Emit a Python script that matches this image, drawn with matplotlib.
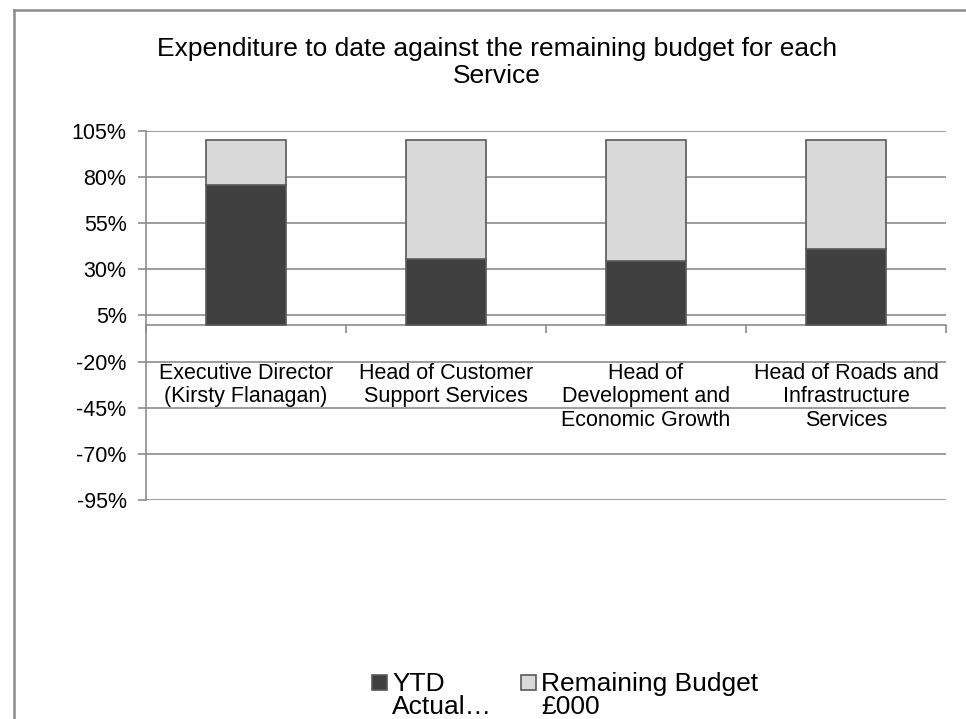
import numpy as np
import matplotlib
matplotlib.use("Agg")
import matplotlib.pyplot as plt
from matplotlib.patches import Rectangle
from matplotlib.lines import Line2D

plt.rcParams['font.family'] = ['Liberation Sans', 'DejaVu Sans']

# --- data ---
categories = [
    "Executive Director\n(Kirsty Flanagan)",
    "Head of Customer\nSupport Services",
    "Head of\nDevelopment and\nEconomic Growth",
    "Head of Roads and\nInfrastructure\nServices",
]
ytd_actual = [75.5, 35.4, 34.3, 41.3]          # % of budget spent
remaining = [100 - v for v in ytd_actual]      # % of budget left
yticks = [-95, -70, -45, -20, 5, 30, 55, 80, 105]
series_labels = ["YTD\nActual\u2026", "Remaining Budget\n\u00a3000"]

DARK = "#404040"
LIGHT = "#d9d9d9"
EDGE = "#595959"
GRID = "#8c8c8c"
colors = [DARK, LIGHT]

W, H = 966, 719
fig = plt.figure(figsize=(W / 100, H / 100), dpi=100)
ax = fig.add_axes([146 / W, 1 - 500 / H, (946 - 146) / W, (500 - 131) / H])

x = np.arange(len(categories))
ax.bar(x, ytd_actual, width=0.4, color=DARK, edgecolor=EDGE, linewidth=1.2, zorder=3)
ax.bar(x, remaining, bottom=ytd_actual, width=0.4, color=LIGHT, edgecolor=EDGE,
       linewidth=1.2, zorder=3)

ax.set_xlim(-0.5, len(categories) - 0.5)
ax.set_ylim(-95, 105)
ax.set_yticks(yticks)
ax.set_yticklabels([f"{t}%" for t in yticks], fontsize=15.5)
ax.yaxis.grid(True, color=GRID, linewidth=1.2)
ax.set_axisbelow(True)
ax.tick_params(axis='y', length=6, width=1.2, color=GRID, pad=8)

# category axis sits at zero
ax.spines['bottom'].set_position(('data', 0))
ax.spines['bottom'].set_color(GRID)
ax.spines['bottom'].set_linewidth(1.2)
ax.spines['left'].set_color(GRID)
ax.spines['left'].set_linewidth(1.2)
for s in ['top', 'right']:
    ax.spines[s].set_visible(False)
ax.set_xticks(np.arange(len(categories) + 1) - 0.5)
ax.set_xticklabels([])
ax.tick_params(axis='x', length=6, width=1.2, color=GRID, direction='out')

for i, lab in enumerate(categories):
    ax.text(i, -20.5, lab, ha='center', va='top', fontsize=15.5, linespacing=1.17)

fig.suptitle("Expenditure to date against the remaining budget for each\nService",
             x=497 / W, y=1 - 37 / H, va='top', fontsize=19, linespacing=1.15)

# legend drawn by hand so the swatch sits beside the first text line
leg_x = [372, 521]
for lx, col, lab in zip(leg_x, colors, series_labels):
    fig.add_artist(Rectangle((lx / W, 1 - 690 / H), 15 / W, 15 / H, transform=fig.transFigure,
                             facecolor=col, edgecolor=EDGE, linewidth=1.2))
    fig.text((lx + 20) / W, 1 - 672 / H, lab, ha='left', va='top', fontsize=19,
             linespacing=0.97)

# outer chart border (top and left edges visible)
fig.add_artist(Line2D([14 / W, 1], [1 - 10 / H, 1 - 10 / H], color="#8c8c8c", linewidth=1.8))
fig.add_artist(Line2D([14 / W, 14 / W], [0, 1 - 10 / H], color="#8c8c8c", linewidth=1.8))

fig.savefig("out.png", dpi=100, facecolor='white')
